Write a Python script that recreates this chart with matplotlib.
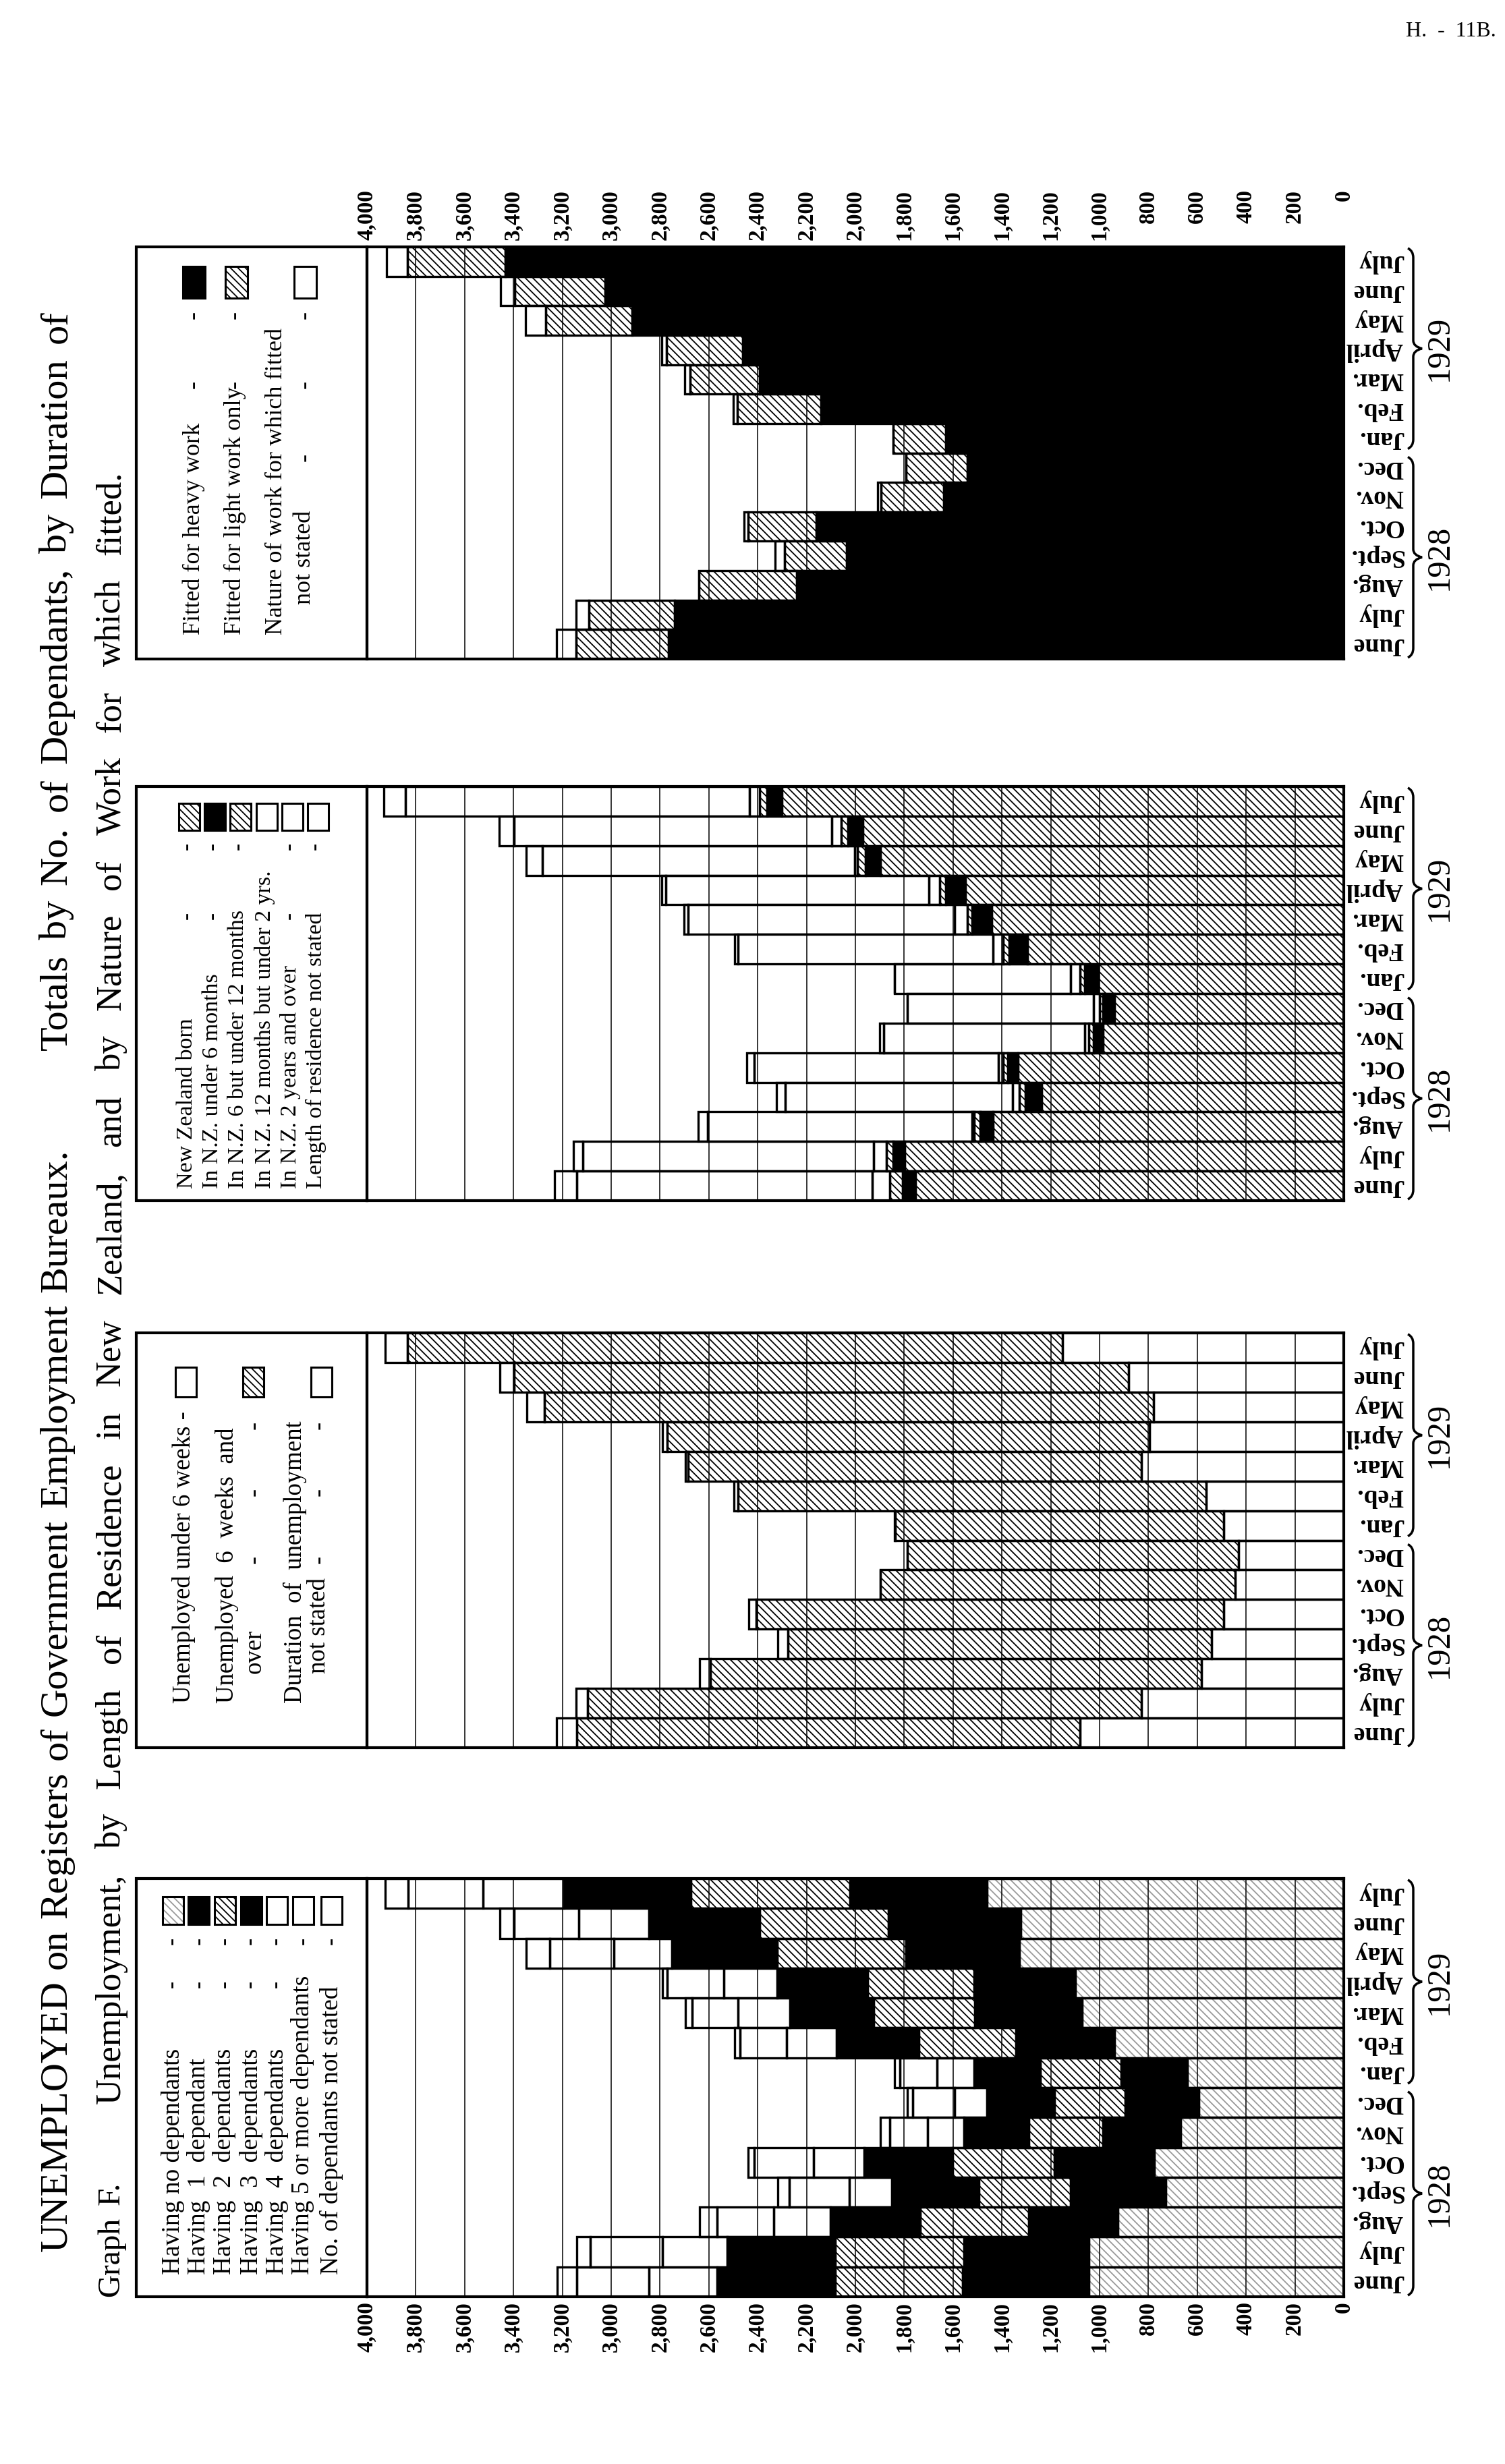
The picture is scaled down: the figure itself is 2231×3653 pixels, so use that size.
import numpy as np
import matplotlib
matplotlib.use('Agg')
import matplotlib.pyplot as plt
from matplotlib.patches import Rectangle, PathPatch
from matplotlib.path import Path

plt.rcParams['font.family'] = ['Liberation Serif', 'DejaVu Serif']
plt.rcParams['hatch.linewidth'] = 1.3

# Months shown on every panel, June 1928 (bottom) to July 1929 (top).
months = ['June', 'July', 'Aug.', 'Sept.', 'Oct.', 'Nov.', 'Dec.',
          'Jan.', 'Feb.', 'Mar.', 'April', 'May', 'June', 'July']
years = ['1928', '1929']
tick_values = list(range(0, 4001, 200))

# Panel 1: number of dependants.
no_dependants = [1044, 1044, 925, 730, 775, 669, 595, 642, 939, 1073, 1100, 1330, 1322, 1462]
one_dependant = [516, 511, 365, 388, 410, 317, 299, 270, 404, 437, 415, 463, 542, 561]
two_dependants = [523, 528, 444, 376, 417, 304, 291, 331, 397, 415, 436, 528, 529, 650]
three_dependants = [482, 442, 368, 357, 363, 265, 277, 272, 338, 343, 370, 431, 452, 521]
four_dependants = [280, 264, 233, 174, 205, 150, 132, 151, 204, 212, 219, 238, 288, 331]
five_or_more = [295, 296, 232, 245, 245, 154, 172, 153, 190, 188, 230, 262, 265, 307]
dependants_not_stated = [80, 55, 71, 48, 25, 39, 21, 21, 23, 27, 20, 95, 59, 93]

# Panel 2: duration of unemployment.
under_6_weeks = [1079, 828, 582, 542, 492, 444, 431, 492, 563, 828, 796, 780, 880, 1153]
six_weeks_over = [2062, 2268, 2012, 1735, 1914, 1454, 1356, 1346, 1917, 1858, 1975, 2493, 2517, 2681]
duration_not_stated = [82, 48, 44, 40, 30, 0, 0, 2, 17, 10, 19, 73, 60, 92]

# Panel 3: length of residence in New Zealand.
nz_born = [1753, 1798, 1436, 1237, 1335, 986, 939, 1005, 1296, 1441, 1549, 1898, 1970, 2300]
nz_under_6m = [53, 48, 53, 66, 40, 40, 47, 55, 74, 82, 80, 61, 61, 61]
nz_6_12m = [53, 26, 26, 27, 21, 18, 13, 19, 26, 18, 26, 32, 26, 32]
nz_12m_2y = [71, 53, 8, 26, 18, 16, 27, 39, 40, 53, 45, 13, 40, 42]
nz_2y_over = [1211, 1190, 1081, 931, 1000, 825, 761, 722, 1044, 1092, 1076, 1277, 1300, 1407]
residence_not_stated = [90, 40, 40, 37, 30, 15, 0, 0, 15, 15, 18, 68, 62, 88]

# Panel 4: nature of work for which fitted.
heavy_work = [2766, 2739, 2240, 2035, 2159, 1639, 1541, 1631, 2140, 2391, 2462, 2913, 3024, 3433]
light_work = [377, 351, 402, 256, 279, 256, 251, 214, 343, 285, 312, 354, 370, 401]
work_not_stated = [80, 55, 0, 37, 18, 14, 0, 0, 17, 22, 19, 85, 59, 86]

W, H = 2231, 3653
X_BOX = 202      # left edge of the legend box
X_4000 = 544     # 4,000 line
X_0 = 1992       # zero line

BLACK = ('black', None, 'black')
HATCH = ('white', '\\\\\\', 'black')
LIGHT = ('white', '\\\\\\', '#9a9a9a')
WHITE = ('white', None, 'black')


def fx(x):
    return x / W


def fy(y):
    return 1 - y / H


fig = plt.figure(figsize=(W / 100, H / 100), dpi=100)
fig.patch.set_facecolor('white')


def value_x(v):
    return X_0 - v * (X_0 - X_4000) / 4000.0


def draw_panel(top, bottom, series, styles):
    ax = fig.add_axes([fx(X_4000), fy(bottom), fx(X_0) - fx(X_4000), (bottom - top) / H])
    ax.set_xlim(4000, 0)
    ax.set_ylim(-0.5, len(months) - 0.5)
    ax.set_xticks([])
    ax.set_yticks([])
    for s in ax.spines.values():
        s.set_linewidth(3)
    rows = np.arange(len(months))
    left = np.zeros(len(months))
    for vals, (fc, hatch, hc) in zip(series, styles):
        vals = np.asarray(vals, float)
        ax.barh(rows, vals, left=left, height=1.0, color=fc, hatch=hatch,
                edgecolor=hc, linewidth=0, zorder=2)
        left = left + vals
    left = np.zeros(len(months))
    for vals in series:
        vals = np.asarray(vals, float)
        ax.barh(rows, vals, left=left, height=1.0, fill=False,
                edgecolor='black', linewidth=2.4, zorder=4)
        left = left + vals
    ax.vlines(tick_values[1:-1], -0.5, len(months) - 0.5, colors='black',
              linewidth=1.1, zorder=3)

    # legend box on the left
    fig.add_artist(Rectangle((fx(X_BOX), fy(bottom)), fx(X_4000) - fx(X_BOX),
                             (bottom - top) / H, fill=False, linewidth=3,
                             transform=fig.transFigure))

    # month labels (upside down) and year braces
    rowh = (bottom - top) / len(months)
    for i, m in enumerate(months):
        yc = top + (len(months) - 1 - i + 0.5) * rowh
        fig.text(fx(2080), fy(yc), m, rotation=180, ha='right', va='center',
                 fontsize=27, fontweight='bold')
    xl, xt, xh = 2095, 2108, 2087
    for (ya, yb), yr in [((top + 7 * rowh + 6, bottom - 2), years[0]),
                         ((top + 2, top + 7 * rowh - 6), years[1])]:
        ym = (ya + yb) / 2
        verts = [(xh, ya), (xl, ya + 4), (xl, ya + 14), (xl, ym - 12), (xl, ym - 3), (xt, ym),
                 (xl, ym + 3), (xl, ym + 12), (xl, yb - 14), (xl, yb - 4), (xh, yb)]
        codes = [Path.MOVETO, Path.CURVE3, Path.CURVE3, Path.LINETO, Path.CURVE3, Path.CURVE3,
                 Path.CURVE3, Path.CURVE3, Path.LINETO, Path.CURVE3, Path.CURVE3]
        pts = [(fx(a), fy(b)) for a, b in verts]
        fig.add_artist(PathPatch(Path(pts, codes), fill=False, linewidth=2.5,
                                 transform=fig.transFigure))
        fig.text(fx(2134), fy(ym), yr, rotation=90, ha='center', va='center', fontsize=35)
    return ax


def swatch(xc, y0, y1, style, w=31):
    fc, hatch, hc = style
    fig.add_artist(Rectangle((fx(xc - w / 2), fy(y1)), w / W, (y1 - y0) / H, facecolor=fc,
                             hatch=hatch, edgecolor=hc, linewidth=0, transform=fig.transFigure))
    fig.add_artist(Rectangle((fx(xc - w / 2), fy(y1)), w / W, (y1 - y0) / H, fill=False,
                             edgecolor='black', linewidth=2.2, transform=fig.transFigure))


def vtext(x, y, s, size, **kw):
    return fig.text(fx(x), fy(y), s, rotation=90, ha='center', va='bottom', fontsize=size, **kw)


def dash(x, y, size):
    fig.text(fx(x), fy(y), '-', rotation=90, ha='center', va='center', fontsize=size)


# ---------------- Panel 4 (top): nature of work ----------------
draw_panel(366, 977, [heavy_work, light_work, work_not_stated], [BLACK, HATCH, WHITE])
vtext(287, 941, 'Fitted for heavy work', 26)
vtext(348, 941, 'Fitted for light work only', 26)
vtext(410, 941, 'Nature of work for which fitted', 26)
vtext(452, 896, 'not stated', 26)
for xc, st in [(287, BLACK), (350, HATCH), (452, WHITE)]:
    swatch(xc, 395, 442, st, w=33)
for xc in (287, 348):
    dash(xc, 467, 26)
    dash(xc, 570, 26)
for yy in (467, 570, 678):
    dash(452, yy, 26)
for v in tick_values:
    fig.text(fx(value_x(v)), fy(281), f'{v:,}', rotation=90, ha='center', va='top',
             fontsize=24, fontweight='bold')

# ---------------- Panel 3: length of residence ----------------
draw_panel(1166, 1780, [nz_born, nz_under_6m, nz_6_12m, nz_12m_2y, nz_2y_over, residence_not_stated],
           [HATCH, BLACK, HATCH, WHITE, WHITE, WHITE])
res_labels = ['New Zealand born', 'In N.Z. under 6 months', 'In N.Z. 6 but under 12 months',
              'In N.Z. 12 months but under 2 yrs.', 'In N.Z. 2 years and over',
              'Length of residence not stated']
res_x = [277, 315, 353, 392, 430, 468]
res_styles = [HATCH, BLACK, HATCH, WHITE, WHITE, WHITE]
for xc, lab, st in zip(res_x, res_labels, res_styles):
    vtext(xc, 1762, lab, 24.5)
    swatch(xc + 3, 1191, 1231, st)
for i, xc in enumerate(res_x):
    if i != 3:
        dash(xc, 1254, 24)
    if i in (0, 1, 4):
        dash(xc, 1357, 24)

# ---------------- Panel 2: duration of unemployment ----------------
draw_panel(1976, 2591, [under_6_weeks, six_weeks_over, duration_not_stated], [WHITE, HATCH, WHITE])
vtext(273, 2525, 'Unemployed under 6 weeks -', 26.5)
vtext(337, 2525, 'Unemployed  6  weeks  and', 26.5)
vtext(377, 2481, 'over', 26.5)
vtext(437, 2525, 'Duration  of  unemployment', 26.5)
vtext(473, 2481, 'not stated', 26.5)
for xc, st in [(275, WHITE), (375, HATCH), (476, WHITE)]:
    swatch(xc, 2027, 2071, st)
for xc in (377, 473):
    for yy in (2113, 2212, 2312):
        dash(xc, yy, 26)

# ---------------- Panel 1 (bottom): number of dependants ----------------
draw_panel(2785, 3405, [no_dependants, one_dependant, two_dependants, three_dependants,
                        four_dependants, five_or_more, dependants_not_stated],
           [LIGHT, BLACK, HATCH, BLACK, WHITE, WHITE, WHITE])
dep_labels = ['Having no dependants', 'Having  1  dependant', 'Having  2  dependants',
              'Having  3  dependants', 'Having  4  dependants', 'Having 5 or more dependants',
              'No. of dependants not stated']
dep_x = [256, 295, 333, 372, 410, 449, 491]
dep_styles = [LIGHT, BLACK, HATCH, BLACK, WHITE, WHITE, WHITE]
for i, (xc, lab, st) in enumerate(zip(dep_x, dep_labels, dep_styles)):
    vtext(xc, 3372, lab, 27)
    swatch(xc, 2812, 2853, st)
    dash(xc, 2877, 24)
    if i < 5:
        dash(xc, 2941, 24)
for v in tick_values:
    fig.text(fx(value_x(v)), fy(3412), f'{v:,}', rotation=90, ha='center', va='top',
             fontsize=24, fontweight='bold')

# ---------------- Titles (justified along the left margin) ----------------
renderer = fig.canvas.get_renderer()


def place_line(text, x, y_start, y_end, size):
    words = text.split()
    arts = [fig.text(0, 0, w, rotation=90, ha='center', va='bottom', fontsize=size) for w in words]
    lens = [a.get_window_extent(renderer).height for a in arts]
    gap = ((y_start - y_end) - sum(lens)) / max(len(words) - 1, 1)
    y = y_start
    for a, L in zip(arts, lens):
        a.set_position((fx(x), fy(y)))
        y -= L + gap


place_line('UNEMPLOYED on Registers of Government Employment Bureaux.', 84, 3338, 1704, 42)
place_line('Totals by No. of Dependants, by Duration of', 84, 1557, 460, 42)
place_line('Graph F.', 165, 3405, 3235, 34)
place_line('Unemployment, by Length of Residence in New Zealand, and by Nature of Work for which fitted.',
           165, 3119, 698, 38)

fig.text(fx(2218), fy(46), 'H.  -  11B.', ha='right', va='center', fontsize=23)

fig.savefig('out.png', dpi=100, facecolor='white')
